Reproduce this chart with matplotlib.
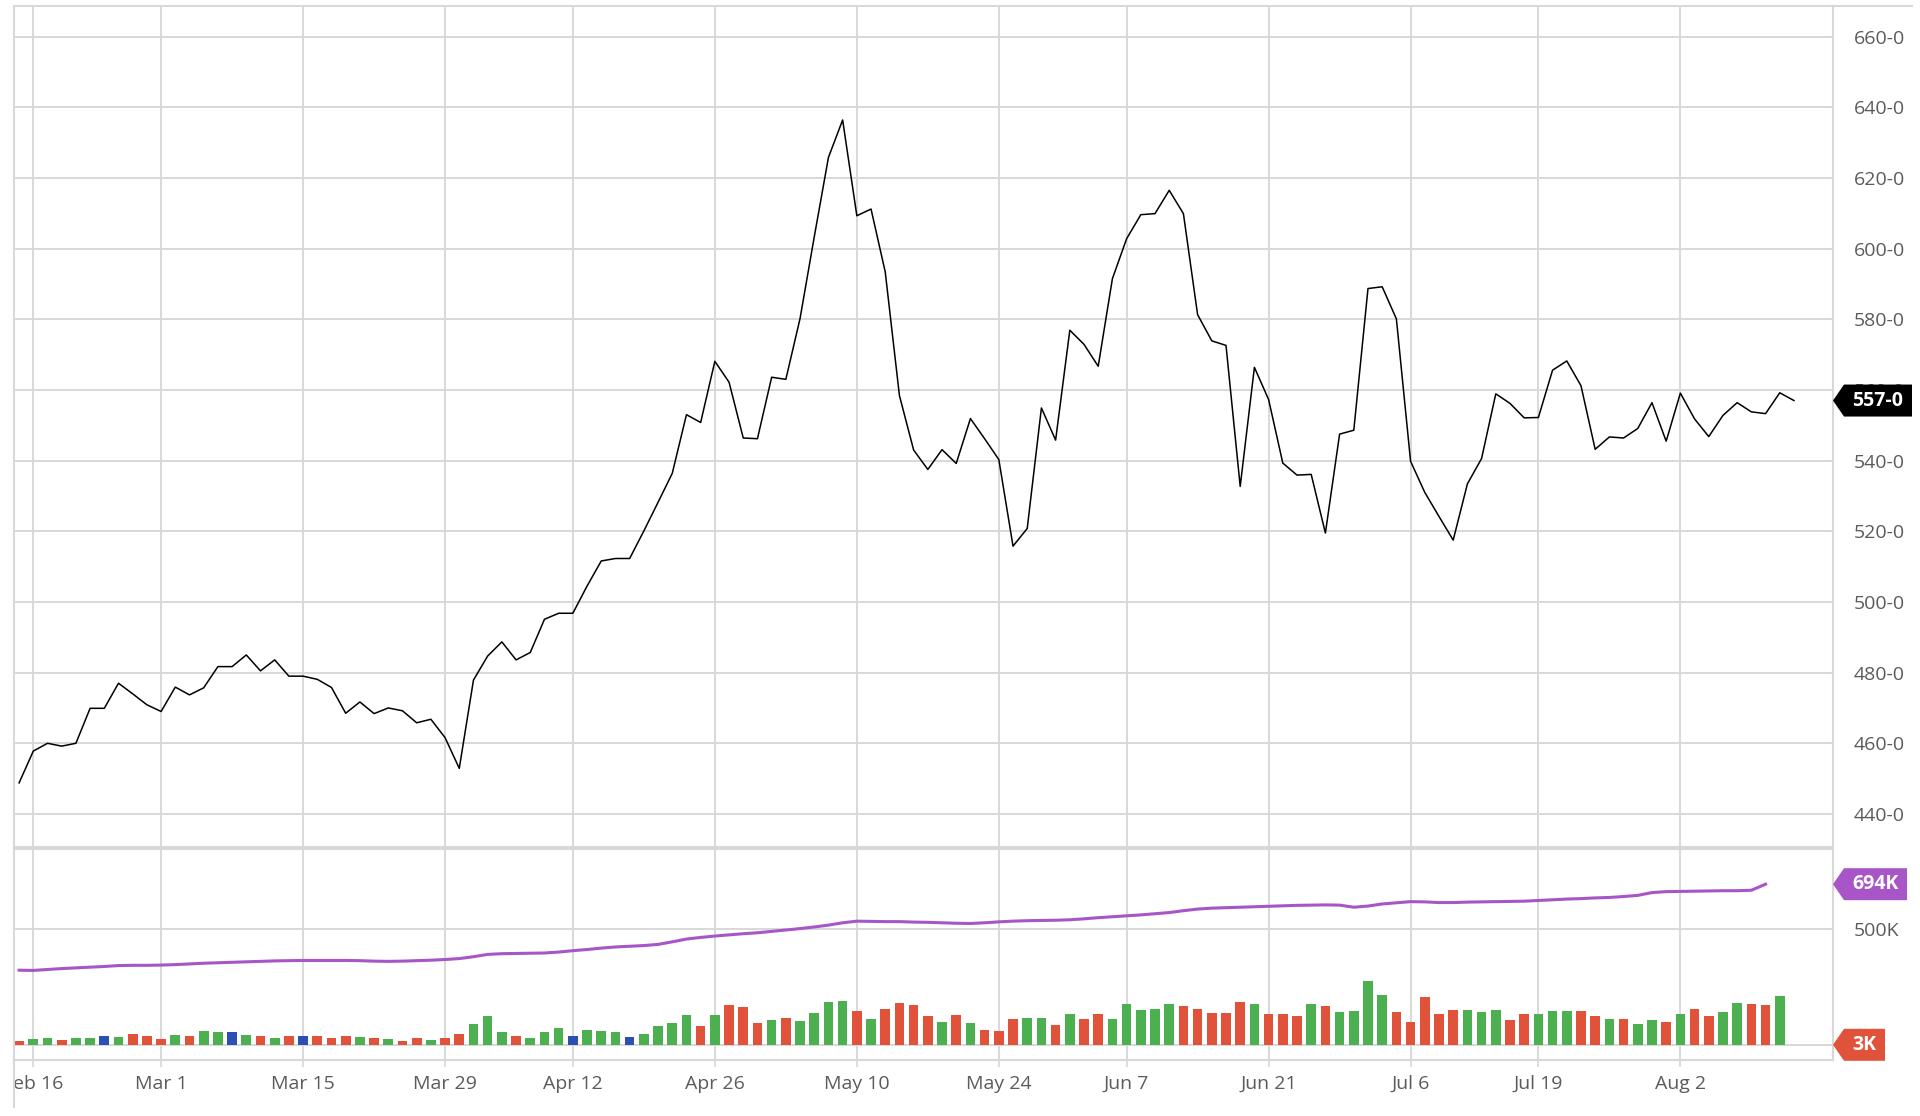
import numpy as np
import matplotlib.pyplot as plt
import matplotlib.transforms as mtransforms
from matplotlib.patches import Polygon
from matplotlib.lines import Line2D

plt.rcParams['font.family'] = ['Open Sans', 'DejaVu Sans']

# ── data (x = trading-day index, 0 = Feb 12) ──
price = [
    448.8, 457.8, 460.0, 459.2, 460.0, 469.9, 469.9, 477.0, 474.0, 470.9,
    469.0, 475.9, 473.7, 475.7, 481.7, 481.7, 485.0, 480.5, 483.6, 479.0,
    479.0, 478.1, 475.8, 468.5, 471.7, 468.4, 470.0, 469.2, 465.8, 466.8,
    461.6, 452.9, 477.9, 484.7, 488.7, 483.6, 485.7, 495.1, 496.8, 496.8,
    504.5, 511.6, 512.3, 512.3, 520.1, 528.2, 536.4, 553.0, 550.8, 568.1,
    562.2, 546.4, 546.2, 563.6, 563.0, 580.2, 603.3, 625.8, 636.4, 609.3,
    611.2, 593.4, 558.4, 543.0, 537.5, 543.1, 539.2, 551.9, 546.2, 540.3,
    515.8, 520.8, 554.9, 545.8, 576.9, 572.9, 566.7, 591.5, 602.8, 609.6,
    609.9, 616.5, 609.9, 581.3, 573.9, 572.6, 532.7, 566.4, 557.3, 539.3,
    535.9, 536.1, 519.5, 547.5, 548.6, 588.7, 589.2, 580.1, 539.8, 531.0,
    524.2, 517.5, 533.4, 540.6, 558.9, 556.2, 552.1, 552.2, 565.6, 568.2,
    561.2, 543.2, 546.7, 546.4, 549.1, 556.4, 545.5, 559.1, 551.8, 546.8,
    552.8, 556.4, 553.8, 553.3, 559.2, 557.0,
]

volume_k = [
    19, 26, 33, 22, 33, 33, 42, 37, 50, 43,
    30, 45, 40, 62, 59, 59, 45, 40, 33, 40,
    42, 39, 33, 43, 36, 32, 26, 19, 32, 23,
    33, 50, 92, 129, 58, 43, 33, 60, 76, 42,
    68, 62, 56, 36, 49, 85, 95, 132, 85, 132,
    175, 164, 96, 108, 118, 106, 139, 187, 193, 147,
    114, 158, 184, 174, 129, 102, 131, 98, 66, 63,
    115, 119, 118, 88, 137, 115, 134, 114, 180, 154,
    157, 178, 172, 158, 138, 138, 187, 178, 137, 137,
    128, 180, 168, 144, 149, 279, 218, 145, 101, 208,
    137, 154, 154, 142, 154, 111, 134, 135, 149, 147,
    149, 129, 115, 114, 93, 108, 99, 134, 157, 128,
    144, 184, 178, 174, 214, 3,
]

# g = up day, r = down day, b = unchanged
vol_dir = ("rggrggbgrr" "rgrggbgrgr" "brrrgrgrrg" "rrgggrgggb" "gggbggggrg"
           "rrrgrggggr" "grrrrgrgrr" "rggrgrrggg" "ggrrrrrgrr" "rgrggggrrr"
           "rrgggrrggg" "rrgrggrgrr" "ggrrgr")

# open interest is one day behind the price series
oi_k = [
    324, 323, 327, 331, 334, 337, 340, 344, 345, 345,
    346, 348, 351, 354, 356, 358, 360, 362, 364, 365,
    366, 366, 366, 366, 365, 363, 362, 363, 365, 367,
    370, 374, 382, 392, 395, 396, 397, 398, 402, 408,
    413, 419, 424, 427, 430, 435, 446, 458, 465, 471,
    476, 481, 485, 491, 497, 503, 510, 518, 528, 535,
    534, 533, 533, 531, 530, 528, 526, 525, 528, 532,
    535, 537, 538, 539, 541, 545, 550, 554, 558, 562,
    567, 572, 580, 587, 591, 593, 595, 597, 599, 601,
    603, 604, 605, 604, 595, 600, 609, 614, 619, 618,
    615, 615, 617, 618, 619, 620, 621, 624, 627, 630,
    632, 635, 637, 641, 646, 658, 662, 663, 664, 665,
    666, 666, 668, 694,
]

tick_idx = [1, 10, 20, 30, 39, 49, 59, 69, 78, 88, 98, 107, 117]
tick_lbl = ['Feb 16', 'Mar 1', 'Mar 15', 'Mar 29', 'Apr 12', 'Apr 26', 'May 10',
            'May 24', 'Jun 7', 'Jun 21', 'Jul 6', 'Jul 19', 'Aug 2']
price_ticks = list(range(440, 661, 20))

# ── styles ──
GREEN, RED, BLUE = '#4caf50', '#e0533a', '#2b4fb3'
PURPLE = '#a855c8'
GRID = '#d8d8d8'
TXT = '#5b5b5b'
cmap = {'g': GREEN, 'r': RED, 'b': BLUE}

W, H = 1920, 1116
fig = plt.figure(figsize=(W / 100, H / 100), dpi=100)


def frac(l, t, r, b):
    return [l / W, 1 - b / H, (r - l) / W, (b - t) / H]


ax = fig.add_axes(frac(14, 6, 1833, 847))
ax2 = fig.add_axes(frac(14, 849, 1833, 1060), sharex=ax)

ax.plot(np.arange(len(price)), price, color='black', lw=1.1, zorder=3)
ax2.bar(np.arange(len(volume_k)), volume_k, width=0.68,
        color=[cmap[c] for c in vol_dir], zorder=2)
ax2.plot(np.arange(len(oi_k)), oi_k, color=PURPLE, lw=2.2, zorder=3)

ax.set_xlim(-0.36, 127.75)
ax.set_ylim(430.65, 668.66)
ax2.set_ylim(-62.4, 845.5)

for a in (ax, ax2):
    a.set_axisbelow(True)
    a.grid(True, color=GRID, lw=1.4)
    for s in a.spines.values():
        s.set_color(GRID)
        s.set_linewidth(1.5)
    a.yaxis.tick_right()
    a.tick_params(axis='y', length=0, pad=15, labelsize=14, labelcolor=TXT)

ax.set_xticks(tick_idx)
ax.tick_params(axis='x', length=0, labelbottom=False)
ax.set_yticks(price_ticks)
ax.set_yticklabels([f'{v}-0' for v in price_ticks])

ax2.set_xticks(tick_idx)
ax2.set_xticklabels(tick_lbl)
ax2.tick_params(axis='x', length=5, width=1.2, color=GRID, pad=6,
                labelsize=14, labelcolor=TXT)
ax2.set_yticks([0, 500])
ax2.set_yticklabels(['', '500K'])

# first date label is cut at the left border
clip = mtransforms.TransformedBbox(mtransforms.Bbox.from_extents(14 / W, 0, 1, 1),
                                   fig.transFigure)
for lbl in ax2.get_xticklabels():
    lbl.set_clip_box(clip)
    lbl.set_clip_on(True)

# left border runs below the panels, top border runs across the labels
fig.add_artist(Line2D([14 / W, 14 / W], [1 - 1107 / H, 1 - 1060 / H],
                      transform=fig.transFigure, color=GRID, lw=1.5))
fig.add_artist(Line2D([1833 / W, 1912 / W], [1 - 6 / H, 1 - 6 / H],
                      transform=fig.transFigure, color=GRID, lw=1.5))


# ── last-value tags ──
def tag(a, val, text, color, w):
    tr = mtransforms.IdentityTransform() + \
        mtransforms.ScaledTranslation(1.0, val, a.get_yaxis_transform())
    pts = [(0, 0), (11, 16), (w, 16), (w, -16), (11, -16)]
    a.add_patch(Polygon(pts, closed=True, transform=tr, facecolor=color,
                        edgecolor='none', clip_on=False, zorder=10))
    a.annotate(text, xy=(1.0, val), xycoords=a.get_yaxis_transform(),
               xytext=((11 + w) / 2 * 0.72, 0), textcoords='offset points',
               ha='center', va='center', color='white', fontsize=14,
               fontweight='bold', zorder=11, annotation_clip=False)


tag(ax, price[-1], f'{price[-1]:.0f}-0', 'black', 79)
tag(ax2, oi_k[-1], f'{oi_k[-1]}K', PURPLE, 74)
tag(ax2, volume_k[-1], f'{volume_k[-1]}K', RED, 52)

fig.savefig('out.png', dpi=100)
